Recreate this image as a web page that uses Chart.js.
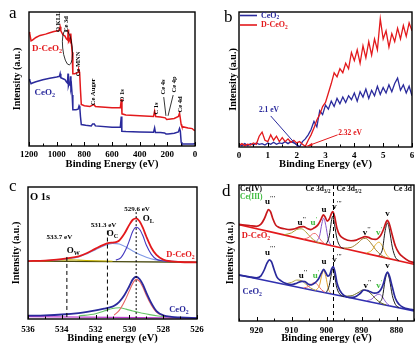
<!DOCTYPE html>
<html>
<head>
<meta charset="utf-8">
<script src="https://cdn.jsdelivr.net/npm/chart.js@4.4.0/dist/chart.umd.min.js"></script>
<style>
  html, body { margin: 0; padding: 0; background: #fff; }
  body { width: 420px; height: 353px; position: relative; overflow: hidden; }
  canvas { position: absolute; }
</style>
</head>
<body>
<canvas id="pa" width="210" height="175" style="left:0;top:0"></canvas>
<canvas id="pb" width="210" height="175" style="left:210px;top:0"></canvas>
<canvas id="pc" width="210" height="178" style="left:0;top:175px"></canvas>
<canvas id="pd" width="210" height="178" style="left:210px;top:175px"></canvas>
<script>
//----- (a) survey spectra
const aRedE = [1200,1195,1185,1175,1150,1120,1080,1050,1020,990,980,975,970,955,940,930,920,917,914,905,900,898,893,888,884,882,870,855,845,840,834,828,822,800,760,740,730,720,700,600,540,532,528,500,400,300,292,284,250,215,205,190,150,120,112,108,100,95,50,20,10,0];
const aRed = [85,84,78.5,79,81,82.5,83.5,84.5,85.5,86,87,89,86,83,82,80,79,87,78,80,77,84,76,70,60,54,54,54.5,55,57,55,42,31,30,29.5,30.5,31,29.5,29.3,28.5,28.5,35,24,23.2,22.5,22,26,22,21.7,21,19.8,20,20.5,22,24.5,22,16,14.5,13.5,13,12,11.5];
const aBlueE = [1200,1195,1185,1175,1150,1100,1050,1000,980,975,970,950,940,930,922,918,915,910,905,900,897,893,888,884,882,860,845,838,833,828,822,790,750,740,728,720,600,540,533,529,500,400,300,292,286,250,220,210,195,150,120,112,106,100,95,50,10,0];
const aBlue = [50,49,46.5,47,48,49.5,50.5,51.5,52,54,51,50,49.5,48,47,54,45,47,46,52,43,45,38,30,27,27,27.5,30,29,22,16,15.5,15,16.5,16.5,15,14,14,22,11,10.8,10.5,10.2,13.5,10,10,9.7,9,9,9.5,10.5,13,11,3,1.5,1.5,1.5,2];
const aTicks = [0, 200, 400, 600, 800, 1000, 1200];

//----- (b) valence band
const bE = [0,0.1,0.2,0.3,0.4,0.5,0.6,0.7,0.8,0.9,1,1.1,1.2,1.3,1.4,1.5,1.6,1.7,1.8,1.9,2,2.1,2.2,2.3,2.4,2.5,2.6,2.7,2.8,2.9,3,3.1,3.2,3.3,3.4,3.5,3.6,3.7,3.8,3.9,4,4.1,4.2,4.3,4.4,4.5,4.6,4.7,4.8,4.9,5,5.1,5.2,5.3,5.4,5.5,5.6,5.7,5.8,5.9,6];
const bBlue = [2,1,2.5,1,2.5,1.5,3,2,2.5,1.5,3,2,3.5,2,3,2.5,4,2.5,4,3,2,0,4,6,9,13,19,15,27,24,31,28,34,30,36,32,37,33,38,35,40,34,41,37,43,36,42,38,45,39,44,40,46,41,47,51,42,46,40,45,38];
const bRed = [1,2.5,1,2,1.5,3,2,8,11,5,4,9,5,8,4,7,4,6,3.5,5,3,4,2,0.5,5,9,14,20,24,30,33,40,47,55,52,58,55,62,58,70,64,72,62,75,66,78,68,80,72,95,80,86,74,84,78,88,80,90,82,92,86];
const bTicks = [0, 1, 2, 3, 4, 5, 6];

//----- (c) O 1s
const cRedE = [536,535,534.3,533.7,533,532.5,532,531.5,531.2,530.9,530.6,530.3,530.0,529.8,529.6,529.4,529.2,529.0,528.7,528.4,528.0,527.5,527,526];
const cRed = [43.9,44.3,45.0,46.0,47.5,50.0,53.3,56.3,57.6,58.0,59.5,64.5,71.5,75.2,76.3,74.0,69.0,62.5,54.0,48.5,45.0,43.6,43.2,42.9];
const cOLdE = [530.8,530.5,530.2,530.0,529.8,529.6,529.4,529.2,529.0,528.7,528.4,528.0,527.5];
const cOLd = [44.5,46.5,53.0,59.5,66.5,69.5,68.0,63.0,56.0,49.0,45.3,44.0,43.5];
const cOCdE = [536,535,534,533.5,533,532.5,532,531.5,531.0,530.6,530.2,529.8,529.4,529.0,528.5,528,527];
const cOCd = [44.0,44.3,45.0,45.8,47.0,49.5,52.5,55.5,57.3,56.8,54.5,51.5,48.8,46.8,45.0,44.2,43.4];
const cOWdE = [536,535,534,533.5,533,532,531];
const cOWd = [43.9,44.1,44.6,44.8,44.6,44.1,43.8];
const cBaseDE = [536,531,526];
const cBaseD = [43.9,43.5,43.0];
const cBlueE = [536,535,534,533,532.5,532,531.5,531.2,530.9,530.6,530.3,530.0,529.8,529.6,529.4,529.2,529.0,528.7,528.4,528.0,527.5,527,526];
const cBlue = [2.5,2.8,3.4,4.5,5.4,6.5,7.8,8.6,10.0,13.0,18.0,25.0,30.0,32.0,30.3,26.0,20.0,12.0,6.0,2.8,1.6,1.2,0.6];
const cOLuE = [530.9,530.6,530.3,530.0,529.8,529.6,529.4,529.2,529.0,528.7,528.4,528.0,527.5];
const cOLu = [3.0,6.5,13.0,21.5,27.0,30.0,28.5,24.0,18.0,10.5,5.2,2.5,1.6];
const cOCuE = [533,532,531.5,531.0,530.6,530.2,529.8,529.3,528.8,528.3,527.8];
const cOCu = [2.3,4.0,6.0,8.0,8.5,7.5,6.0,4.6,3.3,2.3,1.7];
const cBaseUE = [536,531,526];
const cBaseU = [1.8,1.3,0.6];
const cTicks = [526, 528, 530, 532, 534, 536];

//----- (d) Ce 3d
const dUpE = [925,922,920,918.8,917.8,917.0,916.6,916.0,915.3,914.5,913.5,912,910.5,909,907.5,906.6,905.5,904.5,903.5,902.5,901.6,900.9,900.4,899.8,899.2,898.6,898.2,897.7,897.0,896.2,895,893,891.5,890,889,888,887,886,885.3,884.5,883.7,883.0,882.6,882.0,881.2,880.3,879.3,878,876.5,875];
const dUp = [71.0,70.2,69.6,71.0,75.0,80.0,82.0,80.5,75.0,70.5,68.8,67.8,67.2,67.8,69.2,69.4,68.0,67.2,68.5,70.5,74.5,78.0,76.5,73.5,75.0,79.0,80.4,77.0,68.0,63.0,60.5,59.0,59.5,61.2,62.0,61.5,60.3,60.0,60.8,63.0,67.5,72.5,74.0,71.0,63.0,55.0,50.0,46.8,44.2,42.9];
const dUpBaseE = [925,915,905,895,885,875];
const dUpBase = [70.8,65.0,59.1,53.3,47.5,41.7];
const dUpU2E = [912,910,908.5,907.2,906,904.5,903,902];
const dUpU2 = [63.5,64.8,67.3,67.8,65.8,61.5,58.5,57.5];
const dUpU1E = [906.5,905,904,903.3,902.5,901.5,900.5];
const dUpU1 = [60.2,61.6,64.0,64.4,62.6,59.0,56.8];
const dUpUE = [903,902,901.3,900.8,900.2,899.5,898.8];
const dUpU = [58.4,62.3,71.9,75.6,70.3,59.9,56.0];
const dUpV3E = [900,899.2,898.6,898.2,897.7,897,896,895];
const dUpV3 = [56.7,62.7,73.4,77.1,70.8,60.4,54.6,53.3];
const dUpV2E = [895,893,891,889.5,888.8,887.5,886,884.5,883];
const dUpV2 = [53.6,54.1,57.4,60.6,60.7,57.9,52.6,48.7,46.6];
const dUpV1E = [888.5,887,886,885,884,883,882];
const dUpV1 = [50.0,52.1,56.1,58.0,54.9,49.3,46.3];
const dUpVE = [885,884,883.3,882.6,882,881.2,880.3,879.3];
const dUpV = [48.0,52.9,65.5,72.1,66.8,54.3,46.8,44.4];

const dLoE = [925,922,920,918.8,917.8,917.0,916.3,915.7,915.0,914.2,913.0,911.5,910,908.5,907,906.2,905.2,904.3,903.3,902.4,901.5,900.8,900.2,899.6,899.0,898.5,898.1,897.6,897.0,896.2,895,893.5,892,890.5,889.3,888.3,887.3,886.3,885.3,884.5,883.8,883.1,882.6,882.0,881.2,880.3,879.3,878,876.5,875];
const dLo = [33.8,32.5,31.8,33.0,37.5,42.5,45.0,43.5,38.0,32.5,29.5,27.5,26.8,27.8,29.2,29.0,27.0,26.6,28.0,30.5,35.0,38.0,35.5,33.0,34.5,38.5,40.0,36.5,28.0,22.5,18.8,17.3,17.6,20.0,22.8,22.3,21.3,20.5,21.0,23.0,27.0,33.5,36.0,33.0,25.0,16.5,12.3,10.0,8.8,8.1];
const dLoBaseE = [925,915,905,895,885,875];
const dLoBase = [33.8,28.5,23.2,18.0,12.7,7.4];
const dLoU2E = [912,910,908.5,907.2,906,904.5,903];
const dLoU2 = [27.3,28.4,30.1,29.7,27.3,24.2,22.5];
const dLoU1E = [906.5,905,904,903.3,902.5,901.5,900.5];
const dLoU1 = [24.3,25.5,27.7,28.2,26.5,23.2,21.2];
const dLoUE = [903,902,901.3,900.8,900.2,899.5,898.8];
const dLoU = [22.7,26.2,34.3,37.0,32.7,23.8,20.5];
const dLoV3E = [900,899.2,898.6,898.2,897.7,897,896,895];
const dLoV3 = [21.1,26.2,34.8,38.6,33.3,24.0,19.2,18.0];
const dLoV2E = [895,893,891,889.5,888.8,887.5,886,884.5,883];
const dLoV2 = [18.3,18.5,20.8,22.9,22.7,20.6,16.4,13.4,11.8];
const dLoV1E = [888.5,887,886,885,884,883,882];
const dLoV1 = [14.9,16.2,18.7,19.7,17.7,13.6,11.5];
const dLoVE = [885,884,883.3,882.6,882,881.2,880.3,879.3];
const dLoV = [13.2,17.7,29.4,35.5,30.6,18.8,12.1,9.9];
const dTicks = [880, 890, 900, 910, 920];

//----- styling
const SERIF = '"Liberation Serif","Times New Roman",serif';
const RED = '#e3191c';
const BLUE = '#2a2a9c';
const GREEN = '#3dbb3d';

// text with _{sub} and ^{sup} parts
function rich(ctx, str, x, y, size, color, align, rot) {
  const segs = [];
  str.replace(/_\{([^}]*)\}|\^\{([^}]*)\}|([^_^]+)/g, (m, sub, sup, txt) => {
    if (sub !== undefined) segs.push({t: sub, k: 0.68, dy: size * 0.3});
    else if (sup !== undefined) segs.push({t: sup, k: 0.68, dy: -size * 0.38});
    else segs.push({t: txt, k: 1, dy: 0});
    return m;
  });
  ctx.save();
  ctx.translate(x, y);
  if (rot) ctx.rotate(rot);
  ctx.fillStyle = color;
  ctx.textBaseline = 'middle';
  ctx.textAlign = 'left';
  let w = 0;
  segs.forEach(s => { ctx.font = 'bold ' + (size * s.k) + 'px ' + SERIF; s.w = ctx.measureText(s.t).width; w += s.w; });
  let cx = align === 'center' ? -w / 2 : align === 'right' ? -w : 0;
  segs.forEach(s => { ctx.font = 'bold ' + (size * s.k) + 'px ' + SERIF; ctx.fillText(s.t, cx, s.dy); cx += s.w; });
  ctx.restore();
}

function line(xs, ys, color, w, smooth) {
  return {
    data: xs.map((v, i) => ({x: v, y: ys[i]})),
    borderColor: color, borderWidth: w, pointRadius: 0, fill: false,
    tension: smooth ? 0.4 : 0,
    cubicInterpolationMode: smooth ? 'monotone' : 'default'
  };
}

function seg(ctx, x1, y1, x2, y2, color, w, dash) {
  ctx.save();
  ctx.strokeStyle = color; ctx.lineWidth = w;
  if (dash) ctx.setLineDash(dash);
  ctx.beginPath(); ctx.moveTo(x1, y1); ctx.lineTo(x2, y2); ctx.stroke();
  ctx.restore();
}

// frame + inside ticks + panel letter + y title
function framePlugin(cfg) {
  return {
    id: 'frame',
    afterDraw(c) {
      const ctx = c.ctx, a = c.chartArea, x = c.scales.x, y = c.scales.y;
      ctx.save();
      ctx.strokeStyle = '#000'; ctx.lineWidth = 1.4;
      ctx.strokeRect(a.left, a.top, a.right - a.left, a.bottom - a.top);
      ctx.lineWidth = 1;
      for (let v = Math.ceil(x.min / cfg.minor) * cfg.minor; v <= x.max + 1e-9; v += cfg.minor) {
        const px = Math.round(x.getPixelForValue(v)) + 0.5;
        const major = Math.abs(v / cfg.major - Math.round(v / cfg.major)) < 1e-6;
        ctx.beginPath(); ctx.moveTo(px, a.bottom); ctx.lineTo(px, a.bottom - (major ? 4 : 2.5)); ctx.stroke();
      }
      ctx.restore();
      ctx.save();
      ctx.fillStyle = '#000';
      ctx.font = '17px ' + SERIF;
      ctx.textBaseline = 'alphabetic';
      ctx.fillText(cfg.letter, cfg.lx, cfg.ly);
      ctx.restore();
      rich(ctx, 'Intensity (a.u.)', cfg.ytx, (a.top + a.bottom) / 2, 10, '#000', 'center', -Math.PI / 2);
      if (cfg.deco) cfg.deco(c, ctx, a, v => x.getPixelForValue(v), v => y.getPixelForValue(v));
    }
  };
}

function makeChart(id, datasets, cfg) {
  return new Chart(document.getElementById(id), {
    type: 'line',
    data: {datasets},
    options: {
      responsive: false, animation: false, devicePixelRatio: 1,
      layout: {padding: {left: cfg.pl, right: cfg.pr, top: cfg.pt, bottom: 0}},
      plugins: {legend: {display: false}, tooltip: {enabled: false}},
      scales: {
        x: {
          type: 'linear', min: cfg.min, max: cfg.max, reverse: cfg.rev,
          afterFit: s => { s.height = cfg.xh; },
          afterBuildTicks: s => { s.ticks = cfg.ticks.map(v => ({value: v})); },
          ticks: {autoSkip: false, maxRotation: 0, color: '#000', padding: cfg.tp,
            font: {family: SERIF, size: 9, weight: 'bold'}, callback: v => String(v)},
          grid: {display: false, drawTicks: false},
          border: {display: false},
          title: {display: true, text: cfg.title, color: '#000',
            font: {family: SERIF, size: 10.5, weight: 'bold'}, padding: {top: 0, bottom: cfg.tb}}
        },
        y: {display: false, min: 0, max: 100}
      }
    },
    plugins: [framePlugin(cfg)]
  });
}

//----- panel a
makeChart('pa', [
  line(aRedE, aRed, RED, 1.5),
  line(aBlueE, aBlue, BLUE, 1.5)
], {
  pl: 29, pr: 15, pt: 12, xh: 29, tp: 3.5, tb: 4.5, min: 0, max: 1200, rev: true,
  ticks: aTicks, major: 200, minor: 100, title: 'Binding Energy (eV)',
  letter: 'a', lx: 9, ly: 18, ytx: 17,
  deco(c, ctx, a, X, Y) {
    const notes = [['O KLL', 988, 85], ['Ce 3d', 927, 85], ['Ce MNN', 844, 52], ['Ce Auger', 735, 30.5],
      ['O 1s', 528, 33], ['C 1s', 282, 23.5], ['Ce 4s', 229, 38.5], ['Ce 4p', 151, 40], ['Ce 4d', 105, 25]];
    notes.forEach(n => rich(ctx, n[0], X(n[1]), Y(n[2]), 6.5, '#000', 'left', -Math.PI / 2));
    ctx.save();
    ctx.strokeStyle = '#000'; ctx.lineWidth = 0.8;
    ctx.beginPath(); ctx.ellipse(X(922), Y(73.5), 4.8, 17.5, -0.1, 0, 2 * Math.PI); ctx.stroke();
    ctx.restore();
    seg(ctx, X(226), Y(36.5), X(210), Y(22.5), '#000', 0.8);
    seg(ctx, X(158), Y(38), X(195), Y(22.5), '#000', 0.8);
    rich(ctx, 'D-CeO_{2}', X(1178), Y(72.5), 9, RED, 'left');
    rich(ctx, 'CeO_{2}', X(1160), Y(40), 9, BLUE, 'left');
  }
});

//----- panel b
makeChart('pb', [
  line(bE, bRed, RED, 1.3),
  line(bE, bBlue, BLUE, 1.3)
], {
  pl: 29, pr: 8, pt: 12, xh: 28, tp: 3.5, tb: 4.5, min: 0, max: 6, rev: false,
  ticks: bTicks, major: 1, minor: 0.5, title: 'Binding Energy (eV)',
  letter: 'b', lx: 14, ly: 22, ytx: 23,
  deco(c, ctx, a, X, Y) {
    seg(ctx, a.left + 1, a.top + 3.5, a.left + 18, a.top + 3.5, BLUE, 1.6);
    rich(ctx, 'CeO_{2}', a.left + 22, a.top + 3.5, 8, BLUE, 'left');
    seg(ctx, a.left + 1, a.top + 13, a.left + 18, a.top + 13, RED, 1.6);
    rich(ctx, 'D-CeO_{2}', a.left + 22, a.top + 13, 8, RED, 'left');
    rich(ctx, '2.1 eV', X(1.04), Y(27.4), 7.5, BLUE, 'center');
    seg(ctx, X(1.1), Y(23), X(2.05), Y(0), BLUE, 1);
    rich(ctx, '2.32 eV', X(3.85), Y(10), 7.5, RED, 'center');
    seg(ctx, X(3.42), Y(9), X(2.36), Y(0.6), RED, 1);
    ctx.save();
    ctx.fillStyle = RED;
    const tx = X(2.36), ty = Y(0.6);
    ctx.beginPath(); ctx.moveTo(tx, ty); ctx.lineTo(tx + 5, ty - 3.5); ctx.lineTo(tx + 5.5, ty - 0.5); ctx.closePath(); ctx.fill();
    ctx.restore();
  }
});

//----- panel c
makeChart('pc', [
  line(cRedE, cRed, RED, 1.8, true),
  line(cOLdE, cOLd, '#4438c0', 1.1, true),
  line(cOCdE, cOCd, '#7f98e6', 1.1, true),
  line(cOWdE, cOWd, '#c8b400', 1.1, true),
  line(cBaseDE, cBaseD, '#4a4a10', 1.3),
  line(cBlueE, cBlue, BLUE, 1.8, true),
  line(cOLuE, cOLu, '#e86262', 1.1, true),
  line(cOCuE, cOCu, '#66c466', 1.1, true),
  line(cBaseUE, cBaseU, '#c040d0', 1.3)
], {
  pl: 28, pr: 13, pt: 12, xh: 34, tp: 5, tb: 8.5, min: 526, max: 536, rev: true,
  ticks: cTicks, major: 2, minor: 1, title: 'Binding energy (eV)',
  letter: 'c', lx: 9, ly: 16, ytx: 16,
  deco(c, ctx, a, X, Y) {
    seg(ctx, X(533.7), Y(47), X(533.7), a.bottom, '#000', 1, [4, 3]);
    seg(ctx, X(531.3), Y(67), X(531.3), a.bottom, '#000', 1, [4, 3]);
    seg(ctx, X(529.6), Y(81), X(529.6), a.bottom, '#000', 1, [2, 2]);
    rich(ctx, 'O 1s', a.left + 2, a.top + 10, 10.5, '#000', 'left');
    rich(ctx, '533.7 eV', X(534.14), Y(62.3), 7, '#000', 'center');
    rich(ctx, '531.3 eV', X(531.53), Y(71.2), 7, '#000', 'center');
    rich(ctx, '529.6 eV', X(529.55), Y(83.3), 7, '#000', 'center');
    rich(ctx, 'O_{W}', X(533.32), Y(51.5), 9, '#000', 'center');
    rich(ctx, 'O_{C}', X(531.0), Y(64.5), 9, '#000', 'center');
    rich(ctx, 'O_{L}', X(528.88), Y(76), 9, '#000', 'center');
    rich(ctx, 'D-CeO_{2}', X(526.98), Y(48.5), 8.5, RED, 'center');
    rich(ctx, 'CeO_{2}', X(527.07), Y(6.8), 8.5, BLUE, 'center');
  }
});

//----- panel d
makeChart('pd', [
  line(dUpE, dUp, '#c8181c', 1.7, true),
  line(dUpVE, dUpV, '#1a1a1a', 1, true),
  line(dUpV1E, dUpV1, '#e0b030', 1, true),
  line(dUpV2E, dUpV2, '#a08030', 1, true),
  line(dUpV3E, dUpV3, '#1a1a1a', 1, true),
  line(dUpUE, dUpU, '#8050c8', 1, true),
  line(dUpU1E, dUpU1, '#f06a6a', 1, true),
  line(dUpU2E, dUpU2, '#a8a030', 1, true),
  line(dUpBaseE, dUpBase, RED, 1.6),
  line(dLoE, dLo, BLUE, 1.7, true),
  line(dLoVE, dLoV, '#1a1a1a', 1, true),
  line(dLoV1E, dLoV1, '#9060d0', 1, true),
  line(dLoV2E, dLoV2, '#6a6a20', 1, true),
  line(dLoV3E, dLoV3, '#1a1a1a', 1, true),
  line(dLoUE, dLoU, '#e0a030', 1, true),
  line(dLoU1E, dLoU1, '#f06a6a', 1, true),
  line(dLoU2E, dLoU2, '#b0a040', 1, true),
  line(dLoBaseE, dLoBase, '#3030b0', 1.6)
], {
  pl: 29, pr: 6, pt: 10, xh: 32, tp: 4.5, tb: 8.5, min: 875, max: 925, rev: true,
  ticks: dTicks, major: 10, minor: 5, title: 'Binding energy (eV)',
  letter: 'd', lx: 12, ly: 21, ytx: 20,
  deco(c, ctx, a, X, Y) {
    seg(ctx, X(898), a.top, X(898), a.bottom, '#000', 1, [4, 3]);
    rich(ctx, 'Ce(IV)', a.left + 1, a.top + 4, 7.5, '#000', 'left');
    rich(ctx, 'Ce(III)', a.left + 1, a.top + 12, 7.5, GREEN, 'left');
    rich(ctx, 'Ce 3d_{3/2}', X(898) - 3, a.top + 4, 7.5, '#000', 'right');
    rich(ctx, 'Ce 3d_{5/2}', X(898) + 3, a.top + 4, 7.5, '#000', 'left');
    rich(ctx, 'Ce 3d', a.right - 2, a.top + 4, 7.5, '#000', 'right');
    const up = [["u^{'''}", 916.1, 87.5, '#000'], ["u^{''}", 907.1, 72, '#000'], ["u^{'}", 903.6, 72, GREEN], ['u', 900.7, 82, '#000'],
      ["v^{'''}", 897.0, 84, '#000'], ["v^{''}", 888.5, 65, '#000'], ["v^{'}", 885.0, 65, GREEN], ['v', 882.6, 79, '#000']];
    const lo = [["u^{'''}", 916.1, 50.5, '#000'], ["u^{''}", 906.7, 33, '#000'], ["u^{'}", 903.0, 33, GREEN], ['u', 900.7, 43.5, '#000'],
      ["v^{'''}", 897.0, 45, '#000'], ["v^{''}", 888.3, 26, '#000'], ["v^{'}", 884.9, 26, GREEN], ['v', 882.6, 41, '#000']];
    up.concat(lo).forEach(n => rich(ctx, n[0], X(n[1]), Y(n[2]), 9, n[3], 'center'));
    rich(ctx, 'D-CeO_{2}', X(924.2), Y(62.5), 8.5, RED, 'left');
    rich(ctx, 'CeO_{2}', X(924.0), Y(21.5), 8.5, BLUE, 'left');
  }
});
</script>
</body>
</html>
